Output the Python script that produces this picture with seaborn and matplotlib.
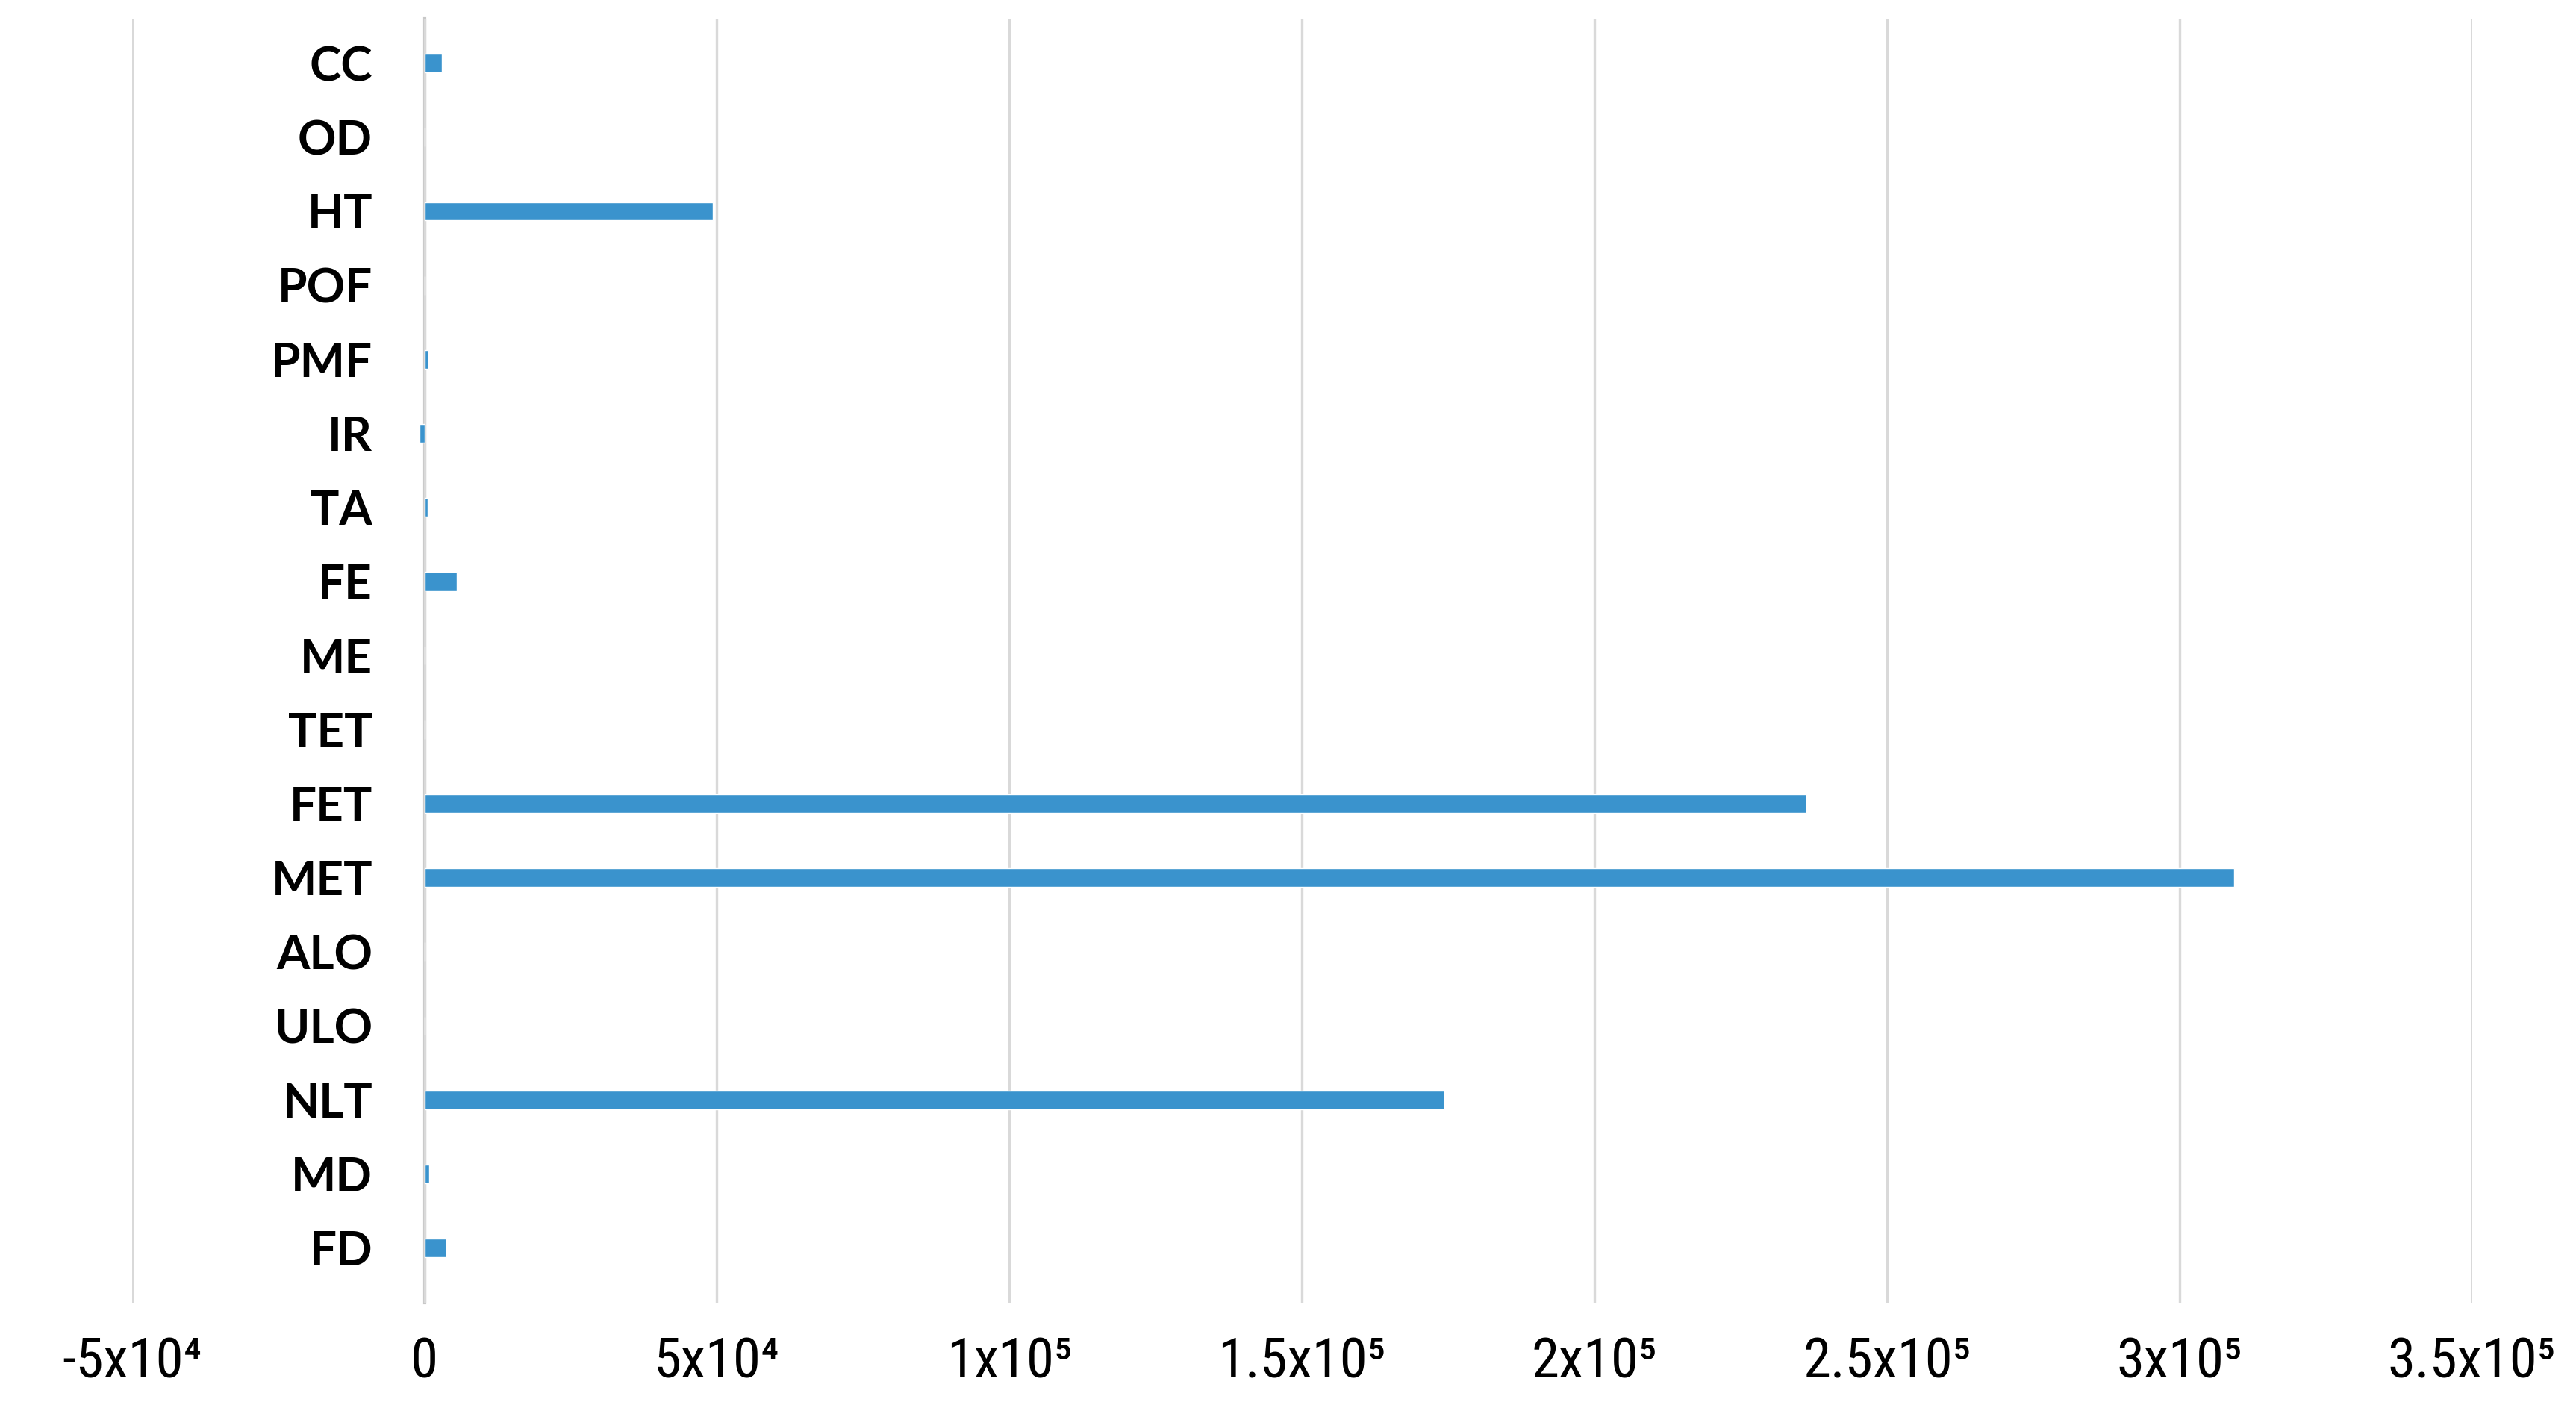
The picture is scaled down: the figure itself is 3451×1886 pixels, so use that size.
import pandas as pd
import seaborn as sns
import matplotlib.pyplot as plt
from matplotlib import font_manager

# category labels, top to bottom
categories = ['CC', 'OD', 'HT', 'POF', 'PMF', 'IR', 'TA', 'FE', 'ME', 'TET',
              'FET', 'MET', 'ALO', 'ULO', 'NLT', 'MD', 'FD']
values = [3000, 0, 49300, 0, 700, -800, 600, 5500, 0, 0,
          236200, 309300, 0, 0, 174400, 800, 3800]

x_ticks = [-50000, 0, 50000, 100000, 150000, 200000, 250000, 300000, 350000]
x_tick_labels = ['-5x10⁴', '0', '5x10⁴', '1x10⁵', '1.5x10⁵', '2x10⁵',
                 '2.5x10⁵', '3x10⁵', '3.5x10⁵']

df = pd.DataFrame({'cat': categories, 'val': values})

sns.set_style('white')
plt.rcParams['font.family'] = ['Lato', 'DejaVu Sans']

# narrow face for the x labels if there is one
names = {f.name for f in font_manager.fontManager.ttflist}
narrow = [n for n in ['Liberation Sans Narrow', 'Roboto Condensed', 'DejaVu Sans Condensed'] if n in names]
x_family = narrow[:1] + ['DejaVu Sans']

fig, ax = plt.subplots(figsize=(34.51, 18.86), dpi=100)
fig.subplots_adjust(left=0.0512, right=0.9596, top=0.9867, bottom=0.0748)

sns.barplot(data=df, x='val', y='cat', orient='h', color='#3A93CD',
            saturation=1, width=0.25, ax=ax)

ax.set_xlim(-50000, 350000)
ax.set_ylim(16.74, -0.6)
ax.set_xticks(x_ticks)
ax.set_xticklabels(x_tick_labels, family=x_family, fontsize=54, color='black')
ax.set_xlabel('')
ax.set_ylabel('')

# gridlines and the zero axis like the excel original
ax.grid(axis='x', color='#d9d9d9', linewidth=2.4)
ax.set_axisbelow(True)
for s in ['top', 'right', 'bottom']:
    ax.spines[s].set_visible(False)
ax.spines['left'].set_position(('data', 0))
ax.spines['left'].set_color('#c8c8c8')
ax.spines['left'].set_linewidth(3)
ax.spines['left'].set_zorder(0.5)

ax.tick_params(axis='y', length=0, pad=50, labelsize=46, labelcolor='black')
ax.tick_params(axis='x', length=0, pad=32)
for lab in ax.get_yticklabels():
    lab.set_fontweight('bold')

fig.savefig('out.png', dpi=100)
